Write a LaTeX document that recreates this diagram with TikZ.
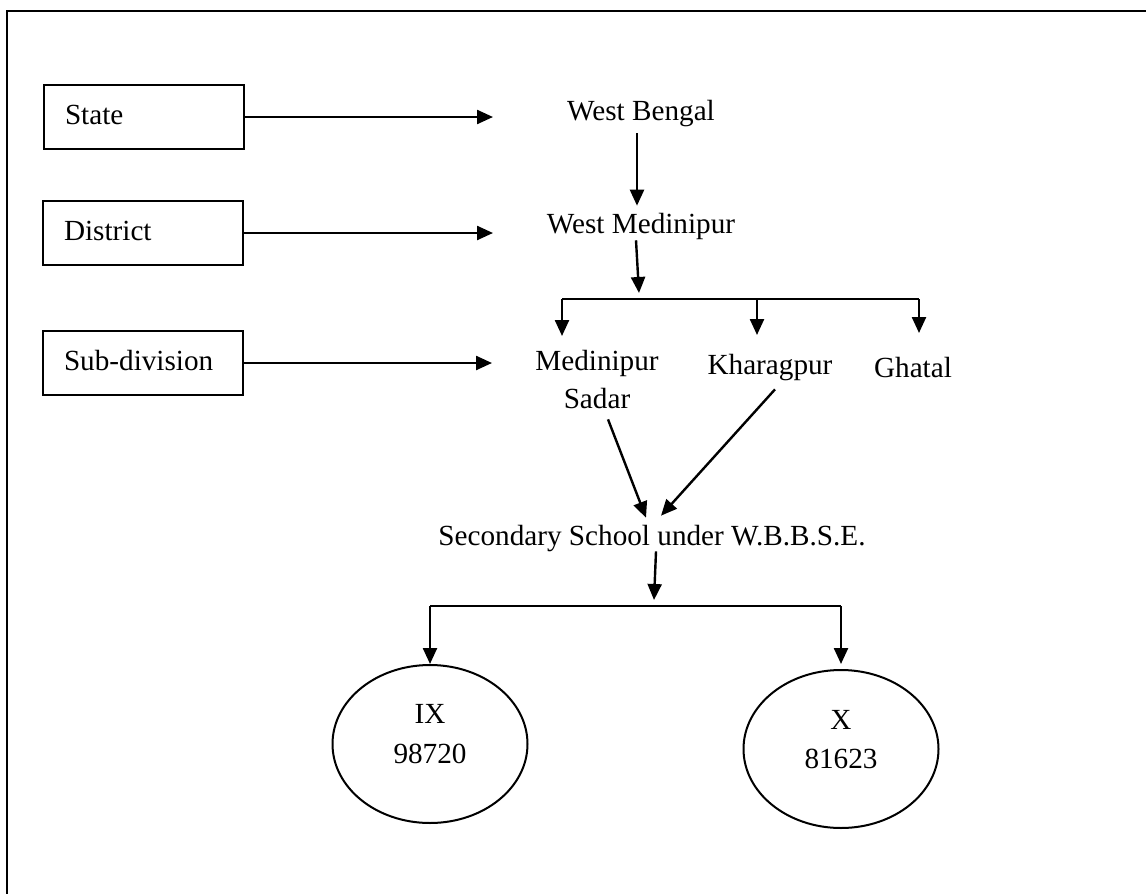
\documentclass[tikz,border=0pt]{standalone}
\usepackage{fontspec}
\setmainfont{Liberation Serif}
\usetikzlibrary{arrows.meta,shapes.geometric}

\tikzset{
  every node/.style={font=\fontsize{14.6pt}{17pt}\selectfont},
  lbl/.style={anchor=base, inner sep=0.3333em},
  levelbox/.style={draw, line width=1.2pt, minimum width=100pt, minimum height=32pt,
    text width=79pt, align=left, inner xsep=10.5pt, inner ysep=0pt, text depth=0.25em},
  classbubble/.style={draw, ellipse, line width=1pt, minimum width=97.5pt,
    minimum height=79pt, inner sep=0pt},
  conn/.style={line width=1.2pt},
  arr/.style={line width=1.2pt, -{Triangle[length=8pt,width=7pt]}},
  frame/.style={line width=1.3pt}
}

\begin{document}
\begin{tikzpicture}[x=0.5pt,y=-0.5pt]
\useasboundingbox (0,0) rectangle (1146,894);

% outer frame (top and left edges)
\coordinate (frameBL) at (7,894);
\coordinate (frameTL) at (7,11);
\coordinate (frameTR) at (1146,11);
\draw[frame] (frameBL) -- (frameTL) -- (frameTR);

% administrative levels
\node[levelbox] (state)    at (144,117) {State};
\node[levelbox] (district) at (143,233) {District};
\node[levelbox] (subdiv)   at (143,363) {Sub-division};

% hierarchy labels
\node[lbl] (wb)     at (641,120) {West Bengal};
\node[lbl] (wm)     at (641,233) {West Medinipur};
\node[lbl] (mp)     at (597,370) {Medinipur};
\node[lbl] (sadar)  at (597,408) {Sadar};
\node[lbl] (kgp)    at (770,374) {Kharagpur};
\node[lbl] (ghatal) at (913,377) {Ghatal};
\node[lbl] (school) at (652,545) {Secondary School under W.B.B.S.E.};

% class bubbles
\node[classbubble] (ix) at (430,744) {};
\node[lbl] (ixname) at (430,723) {IX};
\node[lbl] (ixnum)  at (430,763) {98720};
\node[classbubble] (x) at (841,749) {};
\node[lbl] (xname) at (841,729) {X};
\node[lbl] (xnum)  at (841,768) {81623};

% arrow ends and fork points
\coordinate (stateEnd)    at (493,117);
\coordinate (districtEnd) at (493,233);
\coordinate (subdivEnd)   at (492,363);
\coordinate (forkA)  at (639,299);
\coordinate (forkAL) at (562,299);
\coordinate (forkAM) at (757,299);
\coordinate (forkAR) at (919,299);
\coordinate (forkB)  at (654,606);
\coordinate (forkBL) at (430,606);
\coordinate (forkBR) at (841,606);

% level pointers
\draw[arr] (state.east) -- (stateEnd);
\draw[arr] (district.east) -- (districtEnd);
\draw[arr] (subdiv.east) -- (subdivEnd);

% state to district
\draw[arr] ([xshift=-2pt]wb.south) -- ([xshift=-2pt]wm.north);

% district to sub-divisions
\draw[arr] ([xshift=-2.5pt,yshift=3pt]wm.south) -- ([yshift=3pt]forkA);
\draw[conn] (forkAL) -- (forkAR);
\draw[arr] (forkAL) -- ++(0,37);
\draw[arr] (forkAM) -- ++(0,36);
\draw[arr] (forkAR) -- ++(0,34);

% sub-divisions to schools
\draw[arr] ([xshift=5.5pt,yshift=-2pt]sadar.south) -- ([xshift=-3pt]school.north);
\draw[arr] ([xshift=2.5pt,yshift=-1pt]kgp.south) -- ([xshift=4.5pt,yshift=1pt]school.north);

% schools to classes
\draw[arr] ([xshift=2pt,yshift=3.5pt]school.south) -- ([yshift=3pt]forkB);
\draw[conn] (forkBL) -- (forkBR);
\draw[arr] (forkBL) -- (ix);
\draw[arr] (forkBR) -- ([yshift=2.5pt]x.north);
\end{tikzpicture}
\end{document}
